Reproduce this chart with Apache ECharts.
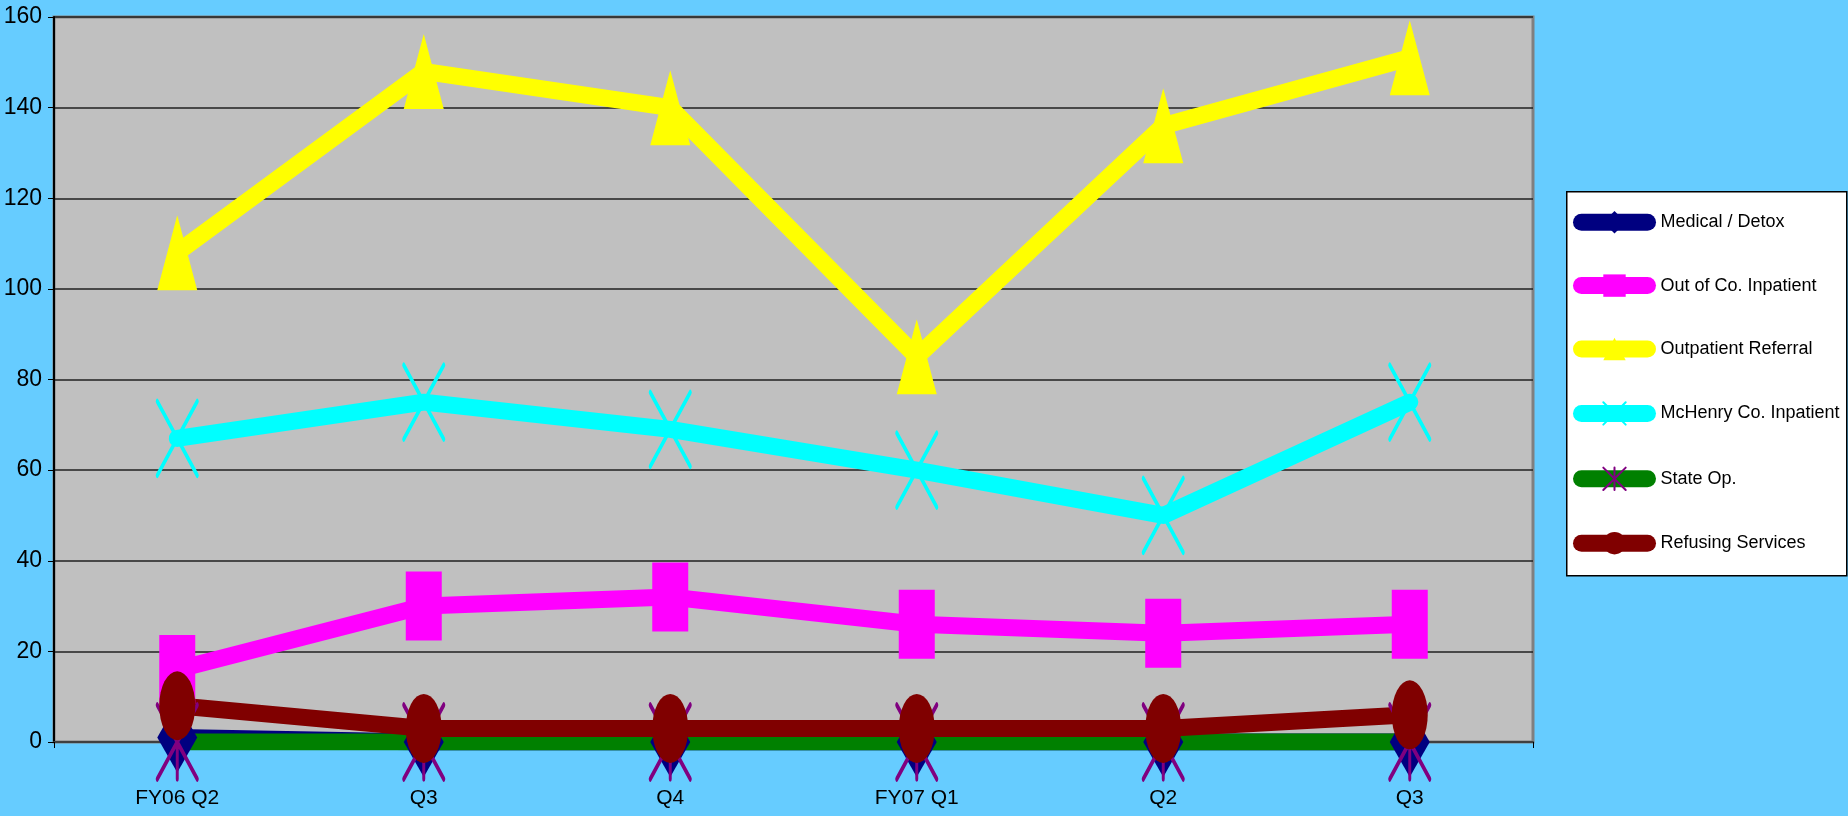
<!DOCTYPE html>
<html>
<head>
<meta charset="utf-8">
<script src="https://cdn.jsdelivr.net/npm/echarts@6/dist/echarts.min.js"></script>
<style>
html,body{margin:0;padding:0;background:#66CCFF;}
#chart{width:1848px;height:816px;}
</style>
</head>
<body>
<div id="chart"></div>
<script>
const categories = ['FY06 Q2', 'Q3', 'Q4', 'FY07 Q1', 'Q2', 'Q3'];
const medicalDetox = [1, 0, 0, 0, 0, 0];
const outOfCoInpatient = [16, 30, 32, 26, 24, 26];
const outpatientReferral = [108, 148, 140, 85, 136, 151];
const mchenryInpatient = [67, 75, 69, 60, 50, 75];
const stateOp = [0, 0, 0, 0, 0, 0];
const refusingServices = [8, 3, 3, 3, 3, 6];
const yTicks = { min: 0, max: 160, interval: 20 };

const FONT = '"Liberation Sans Narrow", "Arial Narrow", "Liberation Sans", Arial, sans-serif';
const LW = 17;
const xPath = 'path://M0,0L40,74M40,0L0,74';
const starPath = 'path://M0,0L40,74M40,0L0,74M20,0L20,74';

function mk(name, data, lineColor, symbol, size, itemStyle) {
  return {
    name: name, type: 'line', data: data,
    symbol: symbol, symbolSize: size,
    lineStyle: { color: lineColor, width: LW, cap: 'round', join: 'round' },
    itemStyle: itemStyle,
    emphasis: { disabled: true },
    z: 2
  };
}

const chart = echarts.init(document.getElementById('chart'), null, { renderer: 'canvas' });
chart.setOption({
  animation: false,
  backgroundColor: '#66CCFF',
  grid: {
    left: 54, right: 315, top: 17, bottom: 74,
    show: true, backgroundColor: '#C0C0C0', borderColor: '#808080', borderWidth: 3
  },
  graphic: [{
    type: 'rect', left: 1566, top: 191, z: 0,
    shape: { width: 280, height: 384 },
    style: { fill: '#FFFFFF', stroke: '#000000', lineWidth: 1.5 }
  }],
  legend: {
    orient: 'vertical', left: 1568, top: 206,
    itemWidth: 66, itemHeight: 28, itemGap: 41,
    selectedMode: false,
    lineStyle: { width: 'inherit' },
    textStyle: { fontFamily: FONT, fontSize: 18, color: '#000', padding: [0, 0, 0, 8] },
    z: 5
  },
  xAxis: {
    type: 'category', data: categories, boundaryGap: true,
    axisLine: { show: true, lineStyle: { color: '#404040', width: 2 } },
    axisTick: { show: true, inside: false, length: 6, lineStyle: { color: '#000' } },
    axisLabel: { fontFamily: FONT, fontSize: 21, color: '#000', margin: 46 },
    splitLine: { show: false }
  },
  yAxis: {
    type: 'value', min: yTicks.min, max: yTicks.max, interval: yTicks.interval,
    axisLine: { show: true, lineStyle: { color: '#000', width: 2 } },
    axisTick: { show: true, length: 6, lineStyle: { color: '#000' } },
    axisLabel: { fontFamily: FONT, fontSize: 23, color: '#000', margin: 12 },
    splitLine: { show: true, lineStyle: { color: '#202020', width: 1.5 } }
  },
  series: [
    mk('Medical / Detox', medicalDetox, '#000080', 'diamond', [40, 70], { color: '#000080' }),
    mk('Out of Co. Inpatient', outOfCoInpatient, '#FF00FF', 'rect', [36, 69], { color: '#FF00FF' }),
    mk('Outpatient Referral', outpatientReferral, '#FFFF00', 'triangle', [40, 75], { color: '#FFFF00' }),
    mk('McHenry Co. Inpatient', mchenryInpatient, '#00FFFF', xPath, [40, 74],
       { color: '#00FFFF', borderColor: '#00FFFF', borderWidth: 4, borderCap: 'round' }),
    mk('State Op.', stateOp, '#008000', starPath, [40, 74],
       { color: '#800080', borderColor: '#800080', borderWidth: 4, borderCap: 'round' }),
    mk('Refusing Services', refusingServices, '#800000', 'circle', [36, 69], { color: '#800000' })
  ]
});
</script>
</body>
</html>
